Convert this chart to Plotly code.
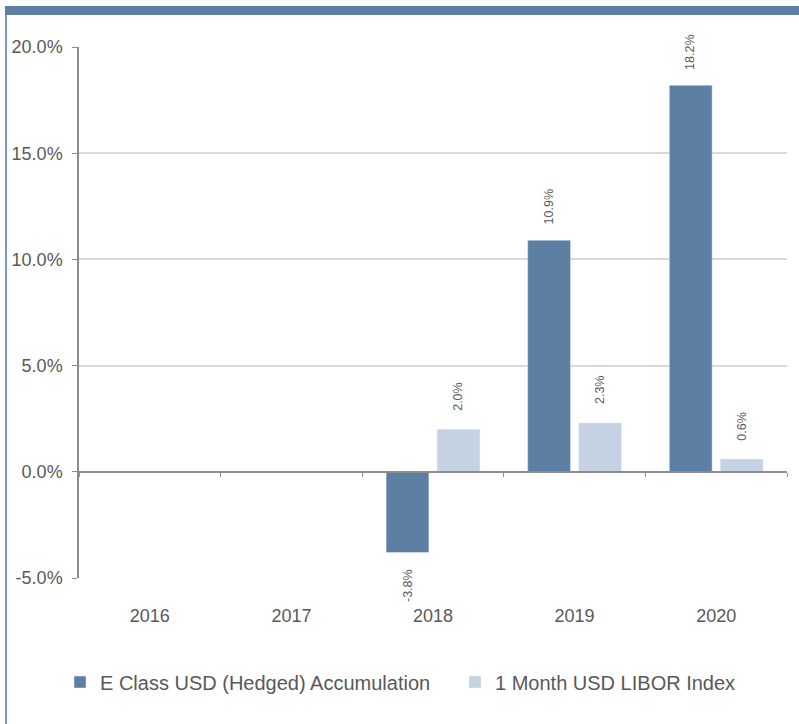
import plotly.graph_objects as go

years = ["2016", "2017", "2018", "2019", "2020"]
fund_name = "E Class USD (Hedged) Accumulation"
index_name = "1 Month USD LIBOR Index"
fund_values = [None, None, -3.8, 10.9, 18.2]
index_values = [None, None, 2.0, 2.3, 0.6]
y_ticks = [-5, 0, 5, 10, 15, 20]

DARK = "#5D7FA3"
LIGHT = "#C5D2E3"
TXT = "#595959"
FONT = "Liberation Sans, Arial, sans-serif"

W, H = 799, 724
L, R, T, B = 79, 12, 47, 146
pw, ph = W - L - R, H - T - B

def px_x(p):
    return (p - L) / pw

def px_y(p):
    return (H - B - p) / ph

fig = go.Figure()
fig.add_trace(go.Bar(x=years, y=fund_values, name=fund_name, marker_color=DARK,
                     hoverinfo="skip"))
fig.add_trace(go.Bar(x=years, y=index_values, name=index_name, marker_color=LIGHT,
                     hoverinfo="skip"))
# invisible helper trace for the zero-line axis with boundary ticks
fig.add_trace(go.Scatter(x=years, y=[0] * len(years), xaxis="x2", mode="markers",
                         marker=dict(opacity=0), showlegend=False, hoverinfo="skip"))

# data labels (rotated)
for vals, off in ((fund_values, -0.18), (index_values, 0.18)):
    for i, v in enumerate(vals):
        if v is None:
            continue
        fig.add_annotation(x=i + off, y=v, xref="x", yref="y", text=f"{v:.1f}%",
                           textangle=-90, showarrow=False,
                           yshift=33 if v >= 0 else -33,
                           font=dict(size=12.5, color=TXT, family=FONT))

ymin, ymax = -5, 20
fig.update_layout(
    width=W, height=H,
    margin=dict(l=L, r=R, t=T, b=B, autoexpand=False),
    paper_bgcolor="white", plot_bgcolor="white",
    font=dict(family=FONT, color=TXT, size=18),
    barmode="group", bargap=0.28, bargroupgap=0.16,
    showlegend=True,
    legend=dict(orientation="h", x=px_x(60), xanchor="left", y=px_y(682), yanchor="middle",
                font=dict(size=20, color=TXT), entrywidth=350, itemwidth=30),
    xaxis=dict(type="category", categoryorder="array", categoryarray=years,
               range=[-0.5, 4.5], showline=False, ticks="", showgrid=False,
               automargin=False,
               tickfont=dict(size=18, color=TXT), ticklabelstandoff=25),
    xaxis2=dict(type="category", categoryorder="array", categoryarray=years,
                overlaying="x", anchor="free", position=(0 - ymin) / (ymax - ymin),
                range=[-0.5, 4.5], showticklabels=False, showgrid=False,
                tickson="boundaries", ticks="outside", ticklen=4, tickcolor="#8C8C8C",
                showline=True, linecolor="#8C8C8C", linewidth=1.5, automargin=False),
    yaxis=dict(range=[ymin, ymax], tickvals=y_ticks,
               ticktext=[f"{v:.1f}%" for v in y_ticks],
               showgrid=True, gridcolor="#D9D9D9", gridwidth=1.5, automargin=False,
               zeroline=False, showline=True, linecolor="#8C8C8C", linewidth=1.5,
               ticks="outside", ticklen=5, tickcolor="#8C8C8C", ticklabelstandoff=6,
               tickfont=dict(size=18, color=TXT)),
)

# frame decoration: top band and left rule
fig.add_shape(type="rect", xref="paper", yref="paper",
              x0=px_x(5), x1=px_x(W), y0=px_y(15), y1=px_y(6),
              fillcolor=DARK, line_width=0, layer="above")
fig.add_shape(type="line", xref="paper", yref="paper",
              x0=px_x(6), x1=px_x(6), y0=px_y(15), y1=px_y(H),
              line=dict(color="#7A9BC0", width=2), layer="above")

fig.write_html("out.html", config={"displayModeBar": False},
               post_script="document.body.style.margin='0';document.body.style.overflow='hidden';")
